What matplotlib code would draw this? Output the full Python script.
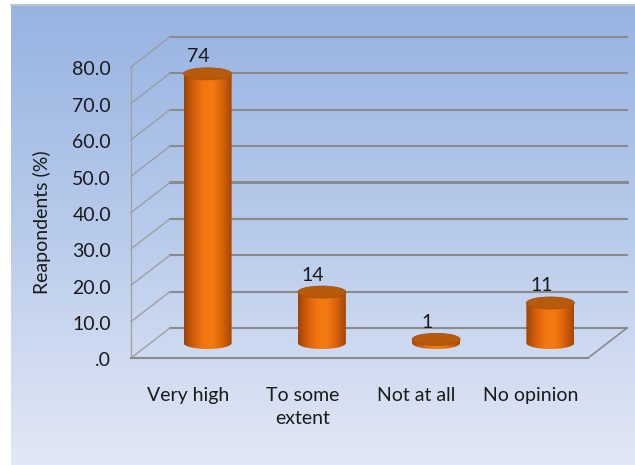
import numpy as np
import matplotlib.pyplot as plt
from matplotlib.patches import Ellipse, Polygon
from matplotlib.colors import LinearSegmentedColormap

# chart data
categories = ["Very high", "To some\nextent", "Not at all", "No opinion"]
values = [74, 14, 1, 11]
y_ticks = [0, 10, 20, 30, 40, 50, 60, 70, 80]
y_tick_labels = [".0", "10.0", "20.0", "30.0", "40.0", "50.0", "60.0", "70.0", "80.0"]
y_label = "Reapondents (%)"

plt.rcParams['font.family'] = ['Lato', 'DejaVu Sans']

W, H = 635, 465
fig = plt.figure(figsize=(6.35, 4.65), dpi=100)
fig.patch.set_facecolor("white")
ax = fig.add_axes([0, 0, 1, 1])
ax.axis('off')

# layout of the 3D box in pixels
x0_px, x1_px = 131, 588      # front floor edge
y0_px, y80_px = 358, 67      # front left axis at 0 and at 80
cat_px = (x1_px - x0_px) / len(categories)
val_px = (y0_px - y80_px) / 80.0


def px(x, y):
    # pixel position -> data position
    return -0.5 + (x - x0_px) / cat_px, (y0_px - y) / val_px


dx = 39 / cat_px             # depth offset (horizontal)
dy = 30 / val_px             # depth offset (vertical)
n = len(categories)
xl, xr = -0.5, n - 0.5
ymax = y_ticks[-1]

# background gradient
bg_cmap = LinearSegmentedColormap.from_list("bg", ["#97B3E2", "#B9CBEB", "#E2E8F5"])
bx0, by0 = px(11, 465)
bx1, by1 = px(635, 5)
grad = np.linspace(0, 1, 256).reshape(-1, 1)
ax.imshow(grad, extent=[bx0, bx1, by0, by1], origin='upper', aspect='auto',
          cmap=bg_cmap, zorder=0)
ax.plot([bx0, bx1], [by1, by1], color="#c8c8c8", lw=1.2, zorder=1)

# walls and gridlines
grid_col = "#8a8a8a"
for v in y_ticks:
    lw = 2.2 if v == 40 else 1.5
    ax.plot([xl + dx, xr + dx], [v + dy, v + dy], color=grid_col, lw=lw, zorder=1)
    ax.plot([xl, xl + dx], [v, v + dy], color="#9a9a9a", lw=0.9, zorder=1)
ax.plot([xl, xl], [0, ymax], color="#a0a0a0", lw=0.9, zorder=1)
ax.plot([xl, xr], [0, 0], color=grid_col, lw=1.5, zorder=1)
ax.plot([xr, xr + dx], [0, dy], color=grid_col, lw=1.2, zorder=1)

# cylinders
bar_cmap = LinearSegmentedColormap.from_list(
    "bar", ["#9C4407", "#D45F0A", "#F27610", "#F47A12", "#D8620A", "#A04806"])
body_grad = np.linspace(0, 1, 256).reshape(1, -1)
w = 48 / cat_px
eh = 12 / val_px
for i, v in enumerate(values):
    xc = i + dx / 2
    base = dy / 2
    top = base + v
    t = np.linspace(np.pi, 2 * np.pi, 60)
    pts = list(zip(xc + w / 2 * np.cos(t), base + eh / 2 * np.sin(t)))
    pts += [(xc + w / 2, top), (xc - w / 2, top)]
    clip = Polygon(pts, closed=True, facecolor="none", edgecolor="none")
    ax.add_patch(clip)
    im = ax.imshow(body_grad, extent=[xc - w / 2, xc + w / 2, base - eh / 2, top],
                   aspect='auto', cmap=bar_cmap, zorder=3)
    im.set_clip_path(clip)
    ax.add_patch(Ellipse((xc, top), w, eh, facecolor="#B85A0C",
                         edgecolor="#A9500A", lw=0.6, zorder=4))
    ax.text(xc - 9 / cat_px, top + 17 / val_px, str(v), ha='center', va='center',
            fontsize=14, color="#1a1a1a", zorder=5)

# axis tick labels
tx, _ = px(111, 0)
for v, lab in zip(y_ticks, y_tick_labels):
    ax.text(tx, v - 3 / val_px, lab, ha='right', va='center', fontsize=14,
            color="#1a1a1a")

lx, ly = px(42, 222)
ax.text(lx, ly, y_label, rotation=90, ha='center', va='center', fontsize=14,
        color="#1a1a1a")

# category labels
_, cy = px(0, 387)
for i, c in enumerate(categories):
    ax.text(i, cy, c, ha='center', va='top', fontsize=14, color="#1a1a1a",
            linespacing=1.45)

ax.set_xlim(px(0, 0)[0], px(W, 0)[0])
ax.set_ylim(px(0, H)[1], px(0, 0)[1])

plt.savefig("out.png", dpi=100)
